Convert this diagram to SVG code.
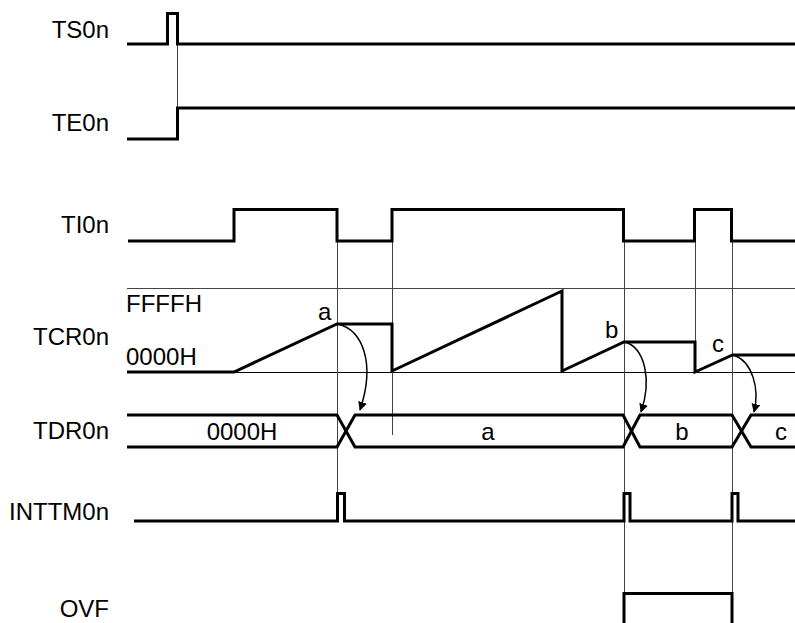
<svg xmlns="http://www.w3.org/2000/svg" width="795" height="623" viewBox="0 0 795 623">
<style>
.sig{fill:none;stroke:#000;stroke-width:3;stroke-linejoin:miter}
.ref{fill:none;stroke:#444;stroke-width:1}
.lbl{font-family:"Liberation Sans",Arial,sans-serif;font-size:24px;fill:#000}
.end{text-anchor:end}
.mid{text-anchor:middle}
.arc{fill:none;stroke:#000;stroke-width:1.5}
</style>
<defs>
<marker id="ah" viewBox="0 0 10 10" refX="9" refY="5" markerWidth="9" markerHeight="9" markerUnits="userSpaceOnUse" orient="auto">
<path d="M0,0 L10,5 L0,10 z" fill="#000"/>
</marker>
</defs>
<rect width="795" height="623" fill="#fff"/>
<g id="guides">
<line class="ref" x1="127" y1="288.5" x2="795" y2="288.5" stroke="#777"/>
<line class="ref" x1="127" y1="372.5" x2="795" y2="372.5" style="stroke:#000"/>
</g>
<g id="connectors">
<line class="ref" x1="177.5" y1="44" x2="177.5" y2="108"/>
<line class="ref" x1="337.5" y1="241" x2="337.5" y2="493"/>
<line class="ref" x1="392.5" y1="209" x2="392.5" y2="435"/>
<line class="ref" x1="624.5" y1="241" x2="624.5" y2="623"/>
<line class="ref" x1="695.5" y1="241" x2="695.5" y2="372"/>
<line class="ref" x1="732.5" y1="241" x2="732.5" y2="623"/>
<path class="arc" d="M338,324 C362,330 376,362 360,410" marker-end="url(#ah)"/>
<path class="arc" d="M625,342 C645,348 652,380 641,412" marker-end="url(#ah)"/>
<path class="arc" d="M734,355 C752,362 760,388 754,412" marker-end="url(#ah)"/>
</g>
<g id="TS0n">
<text class="lbl end" x="109" y="38">TS0n</text>
<path class="sig" d="M127,44 H167.5 V13.5 H177.5 V44 H795"/>
</g>
<g id="TE0n">
<text class="lbl end" x="109" y="131">TE0n</text>
<path class="sig" d="M127,139 H177.5 V108 H795"/>
</g>
<g id="TI0n">
<text class="lbl end" x="109" y="233">TI0n</text>
<path class="sig" d="M128,241 H234 V209.5 H337 V241 H392 V209.5 H623.5 V241 H694.5 V209.5 H731.5 V241 H795"/>
</g>
<g id="TCR0n">
<text class="lbl end" x="109" y="345">TCR0n</text>
<text class="lbl" x="126" y="312">FFFFH</text>
<text class="lbl" x="126" y="365">0000H</text>
<path class="sig" d="M127,372 H234 L337,324 H392 V371 L562,291 V371 L624,342 H695 V372 L732.5,355 H795"/>
<text class="lbl" x="318" y="320">a</text>
<text class="lbl" x="605" y="338">b</text>
<text class="lbl" x="712" y="352">c</text>
</g>
<g id="TDR0n">
<text class="lbl end" x="109" y="439">TDR0n</text>
<path class="sig" d="M127,415 H337 L355,447 H623 L640,415 H732 L751,447 H795"/>
<path class="sig" d="M127,447 H337 L355,415 H623 L640,447 H732 L751,415 H795"/>
<text class="lbl mid" x="242" y="440">0000H</text>
<text class="lbl mid" x="488" y="440">a</text>
<text class="lbl mid" x="682" y="440">b</text>
<text class="lbl mid" x="781" y="440">c</text>
</g>
<g id="INTTM0n">
<text class="lbl end" x="109" y="520">INTTM0n</text>
<path class="sig" d="M134,521 H337.5 V493.5 H344.5 V521 H624 V493.5 H630 V521 H732 V493.5 H738 V521 H795"/>
</g>
<g id="OVF">
<text class="lbl end" x="109" y="617">OVF</text>
<path class="sig" d="M624,623 V593.5 H732 V623"/>
</g>
</svg>
